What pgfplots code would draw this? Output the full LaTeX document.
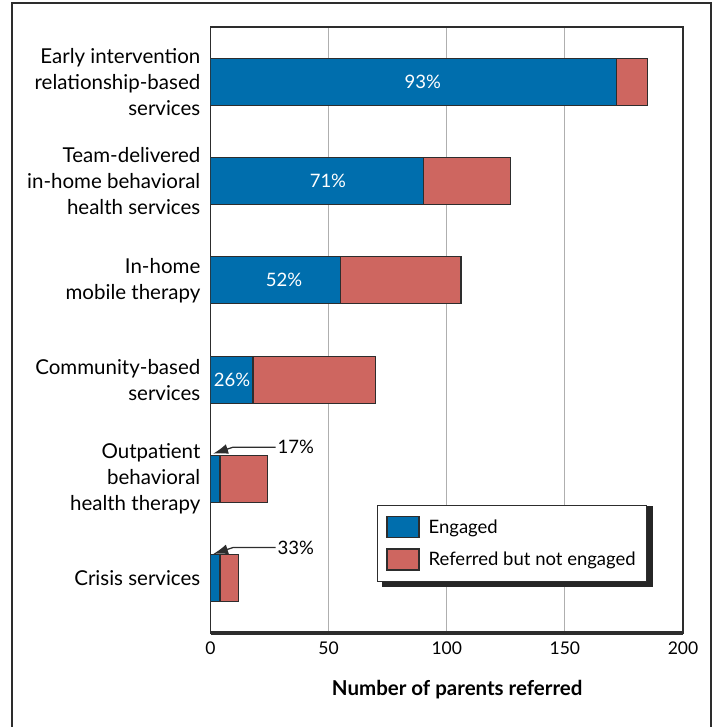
\documentclass[border=0pt]{standalone}
\usepackage{pgfplots}
\pgfplotsset{compat=1.18}
\usepackage{fontspec}
\setmainfont{Lato}
\usetikzlibrary{arrows.meta}
\definecolor{engblue}{RGB}{0,110,173}
\definecolor{refred}{RGB}{206,102,96}
\definecolor{edge}{RGB}{45,45,45}
\definecolor{gridgray}{RGB}{175,175,175}
\newcommand{\lab}{\fontsize{20.5}{26}\selectfont}
\newcommand{\num}{\fontsize{17.5}{22}\selectfont}
\newcommand{\leg}{\fontsize{18.5}{22}\selectfont}
\begin{document}
\begin{tikzpicture}[x=1pt,y=1pt]
\useasboundingbox (0,0) rectangle (715,727);
\draw[edge, line width=1.5pt] (12,0) -- (12,724) -- (711,724) -- (711,0);
\begin{axis}[
  at={(210.5pt,94pt)}, anchor=south west,
  scale only axis, width=472.5pt, height=606pt,
  xbar stacked, bar width=47pt,
  xmin=0, xmax=200, ymin=0.45, ymax=6.55, y dir=reverse,
  xtick={0,50,100,150,200},
  ytick={1,2,3,4,5,6},
  yticklabels={{Early intervention\\relationship-based\\services},
               {Team-delivered\\in-home behavioral\\health services},
               {In-home\\mobile therapy},
               {Community-based\\services},
               {Outpatient\\behavioral\\health therapy},
               {Crisis services}},
  major tick length=0pt,
  xmajorgrids, grid style={gridgray, line width=1.2pt},
  axis line style={edge, line width=1.5pt},
  /pgf/number format/assume math mode=true,
  yticklabel style={font=\lab, align=right, inner sep=0pt, xshift=-10pt},
  xticklabel style={font=\num, inner sep=0pt, yshift=-9pt},
  xlabel={\textbf{Number of parents referred}},
  xlabel style={font=\fontsize{20.5}{24}\selectfont, anchor=center, at={(axis description cs:0.522,-0.094)}},
  legend style={at={(axis description cs:0.352,0.084)}, anchor=south west,
    draw=edge, line width=1.2pt, fill=white, font=\leg,
    inner xsep=9pt, inner ysep=11pt, row sep=10pt},
  legend cell align=left,
  legend image code/.code={\draw[#1, line width=1.2pt] (0pt,-10.5pt) rectangle (32pt,10.5pt);},
  after end axis/.append code={
    \node[white, font=\leg] at (axis cs:89.9,1) {93\%};
    \node[white, font=\leg] at (axis cs:49.7,2) {71\%};
    \node[white, font=\leg] at (axis cs:31.1,3) {52\%};
    \node[white, font=\leg] at (axis cs:9.1,4) {26\%};
    \draw[edge, line width=3.5pt] (axis cs:0,6.55) -- (axis cs:200,6.55);
  },
]
\addplot[fill=engblue, draw=edge, line width=1.2pt] coordinates {(172,1) (90,2) (55,3) (18,4) (4,5) (4,6)};
\addlegendentry{\hspace{7pt}Engaged}
\addplot[fill=refred, draw=edge, line width=1.2pt] coordinates {(13,1) (37,2) (51,3) (52,4) (20,5) (8,6)};
\addlegendentry{\hspace{7pt}Referred but not engaged}
\fill[black!85] (axis cs:72.8,5.272) rectangle (axis cs:187.4,6.09);
\draw[edge, line width=1.3pt, -{Latex[length=15pt,width=10pt]}] (axis cs:27.6,4.68) -- (axis cs:9.5,4.68) -- (axis cs:1.1,4.745);
\node[anchor=west, font=\leg, inner sep=0pt] at (axis cs:28.3,4.68) {17\%};
\draw[edge, line width=1.3pt, -{Latex[length=15pt,width=10pt]}] (axis cs:27.6,5.69) -- (axis cs:9.5,5.69) -- (axis cs:1.1,5.755);
\node[anchor=west, font=\leg, inner sep=0pt] at (axis cs:28.3,5.69) {33\%};
\end{axis}
\end{tikzpicture}
\end{document}
